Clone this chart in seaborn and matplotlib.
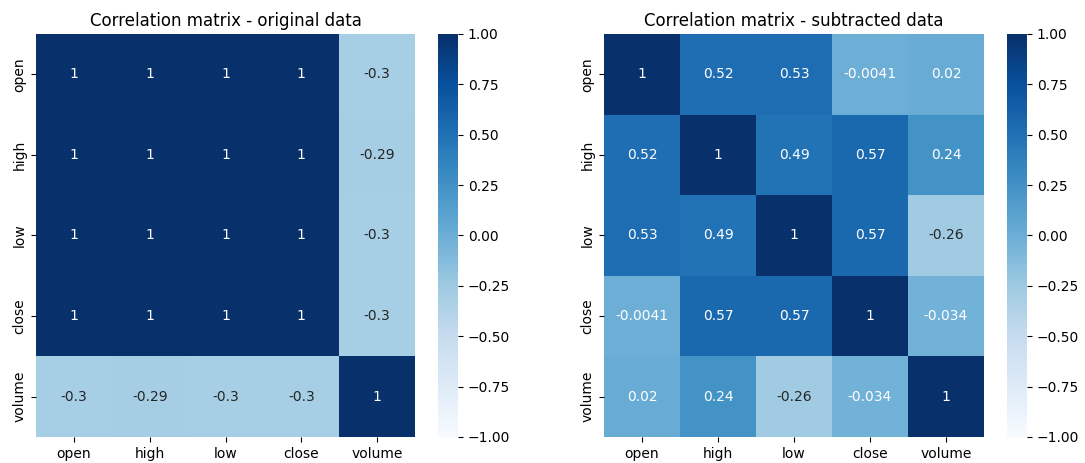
import matplotlib
matplotlib.use("Agg")
import matplotlib.pyplot as plt
import seaborn as sns
import pandas as pd

labels = ['open', 'high', 'low', 'close', 'volume']

# original data correlations (rows)
orig_open = [1, 1, 1, 1, -0.3]
orig_high = [1, 1, 1, 1, -0.29]
orig_low = [1, 1, 1, 1, -0.3]
orig_close = [1, 1, 1, 1, -0.3]
orig_volume = [-0.3, -0.29, -0.3, -0.3, 1]

# subtracted data correlations (rows)
sub_open = [1, 0.52, 0.53, -0.0041, 0.02]
sub_high = [0.52, 1, 0.49, 0.57, 0.24]
sub_low = [0.53, 0.49, 1, 0.57, -0.26]
sub_close = [-0.0041, 0.57, 0.57, 1, -0.034]
sub_volume = [0.02, 0.24, -0.26, -0.034, 1]

orig = pd.DataFrame([orig_open, orig_high, orig_low, orig_close, orig_volume],
                    index=labels, columns=labels)
sub = pd.DataFrame([sub_open, sub_high, sub_low, sub_close, sub_volume],
                   index=labels, columns=labels)

fig = plt.figure(figsize=(10.85, 4.63), dpi=100)
y0, h = 0.0562, 0.8704
ax1 = fig.add_axes([0.0332, y0, 0.3493, h])
cax1 = fig.add_axes([0.4037, y0, 0.0184, h])
ax2 = fig.add_axes([0.5567, y0, 0.3502, h])
cax2 = fig.add_axes([0.9281, y0, 0.0184, h])

sns.heatmap(orig, annot=True, cmap='Blues', vmin=-1, vmax=1, ax=ax1, cbar_ax=cax1)
ax1.set_title('Correlation matrix - original data')

sns.heatmap(sub, annot=True, cmap='Blues', vmin=-1, vmax=1, ax=ax2, cbar_ax=cax2)
ax2.set_title('Correlation matrix - subtracted data')

plt.savefig('out.png', dpi=100)
